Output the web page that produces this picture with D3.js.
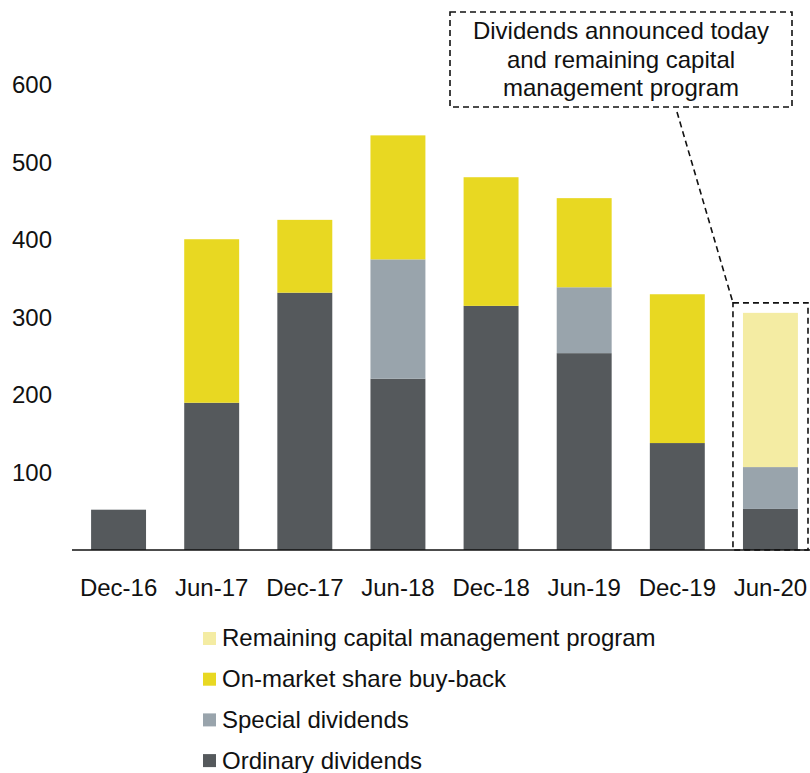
<!DOCTYPE html>
<html><head><meta charset="utf-8">
<script src="https://cdn.jsdelivr.net/npm/d3@7"></script>
<style>body{margin:0;background:#fff}svg{display:block;font-family:"Liberation Sans",Arial,sans-serif}</style>
</head><body><svg id="c" width="810" height="773"></svg>
<script>
const categories = ["Dec-16","Jun-17","Dec-17","Jun-18","Dec-18","Jun-19","Dec-19","Jun-20"];
const ordinary  = [52, 190, 332, 221, 315, 254, 138, 53];
const special   = [0, 0, 0, 154, 0, 85, 0, 54];
const buyback   = [0, 211, 94, 160, 166, 115, 192, 0];
const remaining = [0, 0, 0, 0, 0, 0, 0, 199];
const yTicks = [100, 200, 300, 400, 500, 600];
const seriesNames = ["Ordinary dividends","Special dividends","On-market share buy-back","Remaining capital management program"];
const seriesColors = ["#55595c","#99a4ac","#e8d822","#f4eca3"];
const annotationLines = ["Dividends announced today","and remaining capital","management program"];

const svg = d3.select("#c");
const FS = 24;
const x = d3.scaleBand().domain(categories).range([72, 817]).paddingInner(0.41).paddingOuter(0.205);
const y = d3.scaleLinear().domain([0, 600]).range([550, 85]);

const rows = categories.map((c,i)=>({cat:c, s0:ordinary[i], s1:special[i], s2:buyback[i], s3:remaining[i]}));
const stack = d3.stack().keys(["s0","s1","s2","s3"])(rows);

svg.append("g").selectAll("g").data(stack).join("g")
  .attr("fill",(d,i)=>seriesColors[i])
  .selectAll("rect").data(d=>d.filter(p=>p[1]>p[0])).join("rect")
  .attr("x",d=>x(d.data.cat)).attr("width",x.bandwidth())
  .attr("y",d=>y(d[1])).attr("height",d=>y(d[0])-y(d[1]));

// y labels
svg.append("g").selectAll("text").data(yTicks).join("text")
  .attr("x",52).attr("y",d=>y(d)).attr("dy","0.35em")
  .attr("text-anchor","end").attr("font-size",FS).attr("fill","#111").text(d=>d);

// x axis line
svg.append("line").attr("x1",72).attr("x2",810).attr("y1",y(0)).attr("y2",y(0))
  .attr("stroke","#111").attr("stroke-width",1.5);
svg.append("g").selectAll("text").data(categories).join("text")
  .attr("x",d=>x(d)+x.bandwidth()/2).attr("y",596)
  .attr("text-anchor","middle").attr("font-size",FS).attr("fill","#111").text(d=>d);

// dashed box around last bar
const last = categories[categories.length-1];
const lastTop = y(ordinary[7]+special[7]+buyback[7]+remaining[7]);
const bx0 = x(last) - 10, bx1 = 808, by0 = lastTop - 10;
svg.append("rect").attr("x",bx0).attr("y",by0).attr("width",bx1-bx0).attr("height",y(0)-by0)
  .attr("fill","none").attr("stroke","#111").attr("stroke-width",1.6).attr("stroke-dasharray","6,4");

// annotation box
svg.append("rect").attr("x",450).attr("y",12).attr("width",342).attr("height",95)
  .attr("fill","none").attr("stroke","#111").attr("stroke-width",1.6).attr("stroke-dasharray","6,4");
svg.append("g").selectAll("text").data(annotationLines).join("text")
  .attr("x",621).attr("y",(d,i)=>39+i*28.5).attr("text-anchor","middle")
  .attr("font-size",FS).attr("fill","#111").text(d=>d);
svg.append("line").attr("x1",677).attr("y1",112).attr("x2",bx0).attr("y2",by0)
  .attr("stroke","#111").attr("stroke-width",1.6).attr("stroke-dasharray","6,4");

// legend
const legendOrder = [3,2,1,0];
const lg = svg.append("g").selectAll("g").data(legendOrder).join("g")
  .attr("transform",(d,i)=>`translate(203,${638+i*40.7})`);
lg.append("rect").attr("x",0).attr("y",-6).attr("width",13).attr("height",13).attr("fill",d=>seriesColors[d]);
lg.append("text").attr("x",19).attr("y",0).attr("dy","0.35em").attr("font-size",FS).attr("fill","#111").text(d=>seriesNames[d]);
</script></body></html>
